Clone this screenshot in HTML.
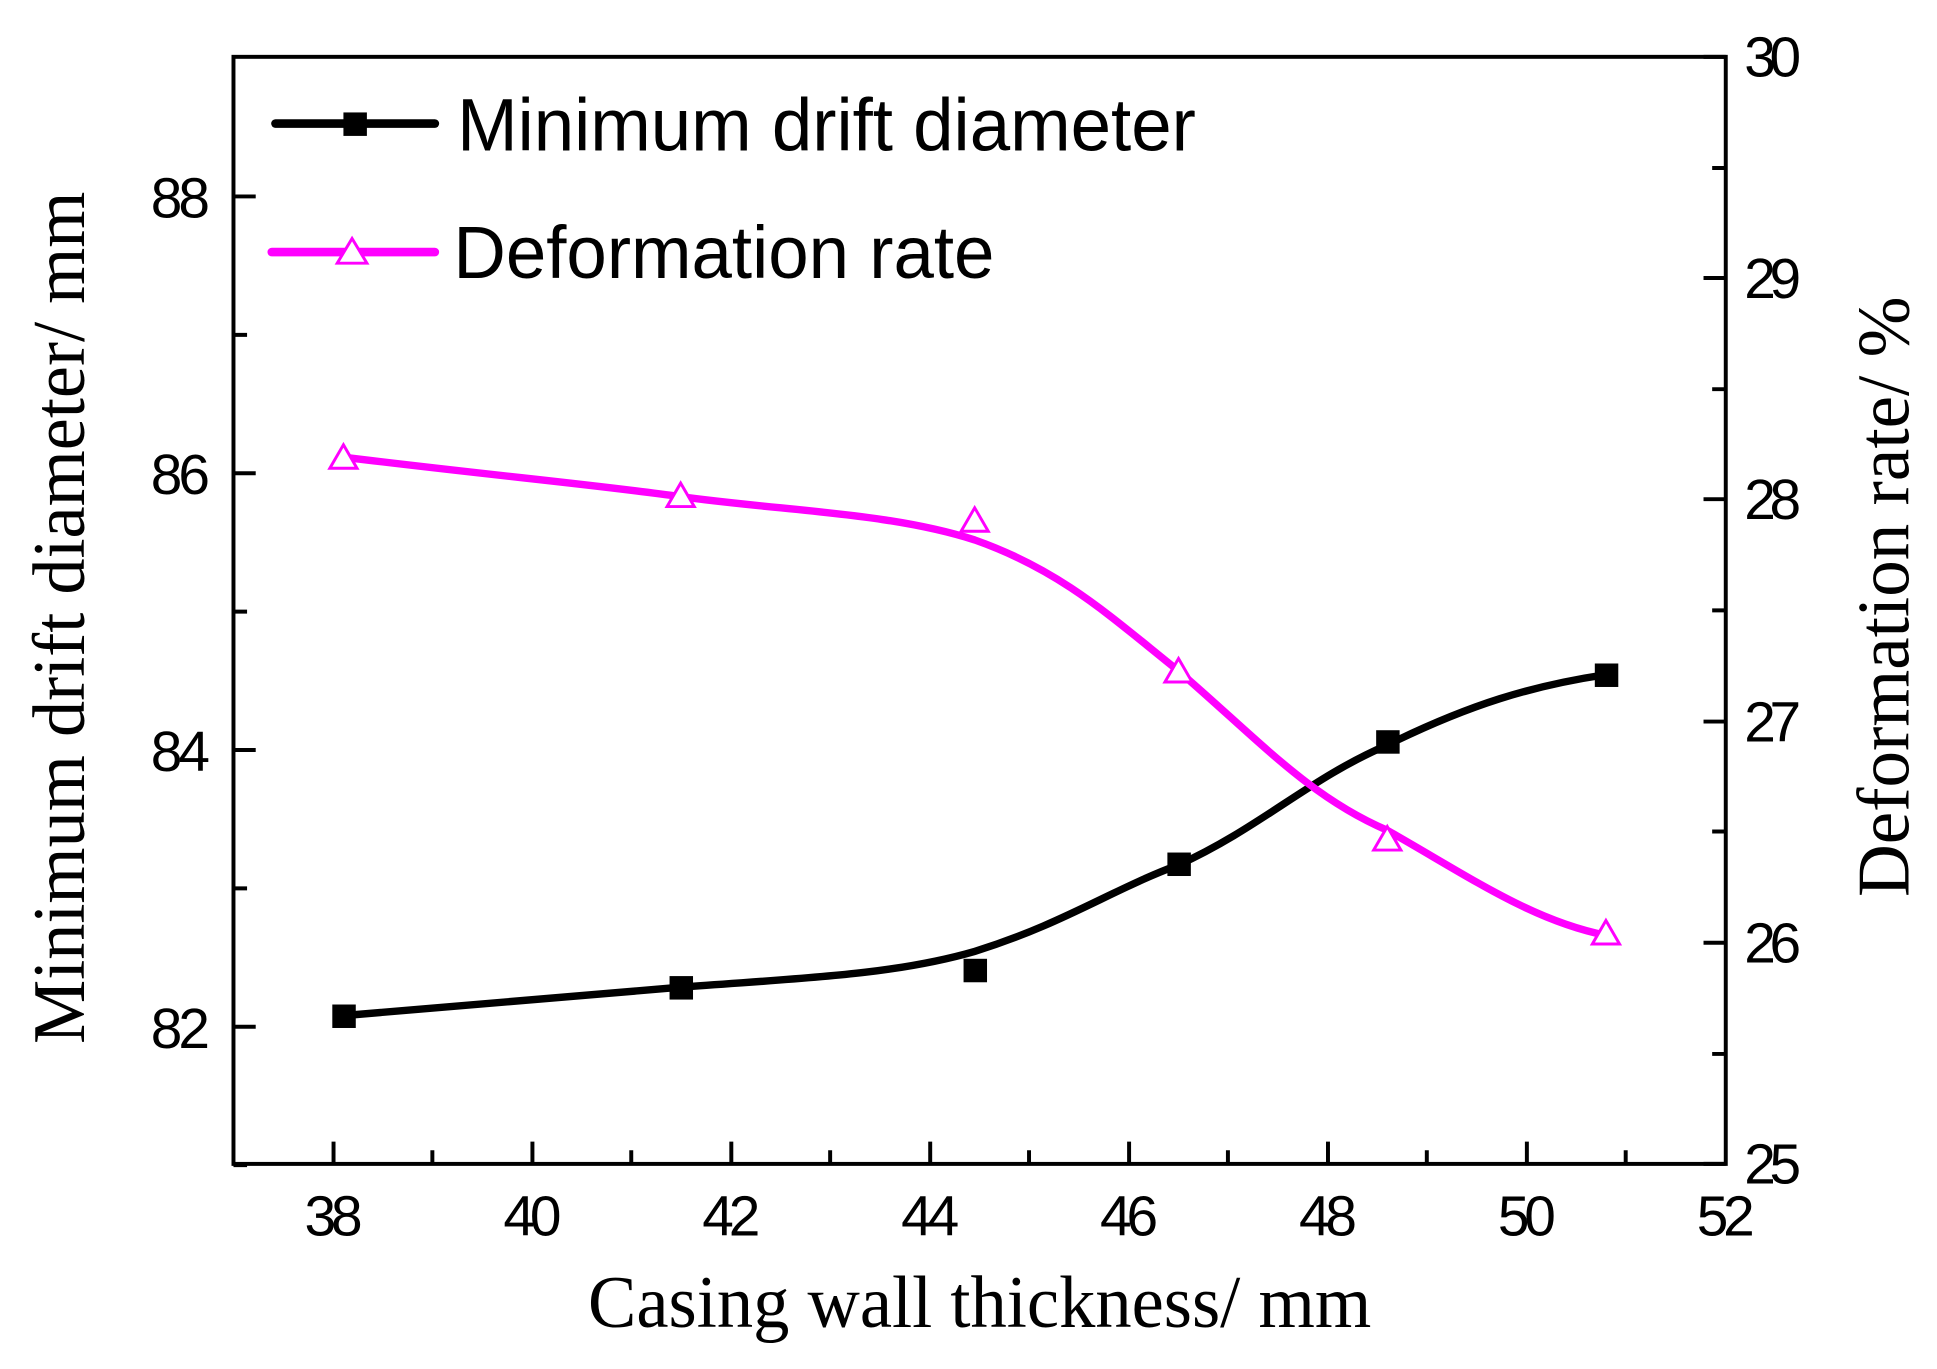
<!DOCTYPE html>
<html><head><meta charset="utf-8"><style>html,body{margin:0;padding:0;background:#fff}svg{display:block}</style></head>
<body>
<svg width="1937" height="1369" viewBox="0 0 1568 1108" preserveAspectRatio="none" xmlns="http://www.w3.org/2000/svg">
<rect x="0" y="0" width="1568" height="1108" fill="#fff"/>
<g stroke="#000" stroke-width="3.2" fill="none">
<rect x="189" y="46" width="1208" height="896"/>
<path d="M189 159h18M189 383h18M189 607h18M189 831h18M189 271h11M189 495h11M189 719h11M189 943h11"/>
<path d="M1397 46h-18M1397 225h-18M1397 404h-18M1397 584h-18M1397 763h-18M1397 942h-18M1397 136h-11M1397 315h-11M1397 494h-11M1397 673h-11M1397 853h-11"/>
<path d="M270 942v-18M431 942v-18M592 942v-18M753 942v-18M914 942v-18M1075 942v-18M1236 942v-18M350 942v-11M511 942v-11M672 942v-11M833 942v-11M994 942v-11M1155 942v-11M1316 942v-11"/>
</g>
<g font-family="Liberation Sans, sans-serif" font-size="46" fill="#000" lengthAdjust="spacingAndGlyphs">
<g text-anchor="end"><text x="170" y="176" textLength="48">88</text><text x="170" y="400" textLength="48">86</text><text x="170" y="624" textLength="48">84</text><text x="170" y="848" textLength="48">82</text></g>
<g text-anchor="start"><text x="1412" y="62" textLength="46">30</text><text x="1412" y="241" textLength="46">29</text><text x="1412" y="420" textLength="46">28</text><text x="1412" y="600" textLength="46">27</text><text x="1412" y="779" textLength="46">26</text><text x="1412" y="958" textLength="46">25</text></g>
<g text-anchor="middle"><text x="270" y="1000" textLength="47">38</text><text x="431" y="1000" textLength="47">40</text><text x="592" y="1000" textLength="47">42</text><text x="753" y="1000" textLength="47">44</text><text x="914" y="1000" textLength="47">46</text><text x="1075" y="1000" textLength="47">48</text><text x="1236" y="1000" textLength="47">50</text><text x="1397" y="1000" textLength="47">52</text></g>
</g>
<g font-family="Liberation Serif, serif" font-size="60" fill="#000">
<text x="793" y="1074" text-anchor="middle" textLength="634" lengthAdjust="spacingAndGlyphs">Casing wall thickness/ mm</text>
<text transform="translate(68 500) rotate(-90)" text-anchor="middle" textLength="690" lengthAdjust="spacingAndGlyphs">Minimum drift diameter/ mm</text>
<text transform="translate(1545 483) rotate(-90)" text-anchor="middle" textLength="486" lengthAdjust="spacingAndGlyphs">Deformation rate/ %</text>
</g>
<path d="M278 822 C 400 812, 480 805, 551 799 C 640 792, 720 790, 789 770 C 860 748, 900 720, 954 700 C 1020 670, 1060 630, 1123 603 C 1190 570, 1240 555, 1300 546" stroke="#000" stroke-width="6" fill="none" stroke-linecap="round"/>
<path d="M278 370 C 400 385, 480 392, 551 402 C 640 414, 720 415, 789 437 C 860 462, 900 500, 954 543 C 1020 600, 1060 645, 1123 672 C 1190 710, 1240 745, 1300 757" stroke="#ff00ff" stroke-width="6" fill="none" stroke-linecap="round"/>
<g fill="#000">
<rect x="269" y="813" width="19" height="19"/><rect x="542" y="790" width="19" height="19"/><rect x="780" y="776" width="19" height="19"/><rect x="945" y="690" width="19" height="19"/><rect x="1114" y="591" width="19" height="19"/><rect x="1291" y="537" width="19" height="19"/>
</g>
<g fill="#fff" stroke="#ff00ff" stroke-width="2.4">
<path d="M278 360 l11 19 h-22z"/><path d="M551 391 l11 19 h-22z"/><path d="M789 411 l11 19 h-22z"/><path d="M954 533 l11 19 h-22z"/><path d="M1123 669 l11 19 h-22z"/><path d="M1300 745 l11 19 h-22z"/>
</g>
<path d="M223 100H352" stroke="#000" stroke-width="7" stroke-linecap="round"/>
<rect x="278" y="91" width="19" height="19" fill="#000"/>
<path d="M220 204H352" stroke="#ff00ff" stroke-width="7" stroke-linecap="round"/>
<path d="M285 193 l12 20 h-24z" fill="#fff" stroke="#ff00ff" stroke-width="2.4"/>
<g font-family="Liberation Sans, sans-serif" font-size="60" fill="#000">
<text x="370" y="122" textLength="598" lengthAdjust="spacingAndGlyphs">Minimum drift diameter</text>
<text x="367" y="225" textLength="438" lengthAdjust="spacingAndGlyphs">Deformation rate</text>
</g>
</svg>
</body></html>
